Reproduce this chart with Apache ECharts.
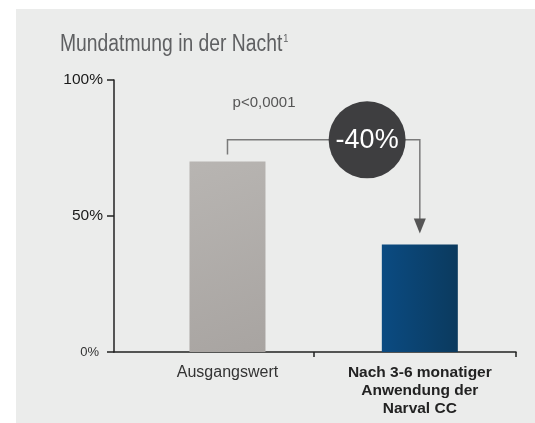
<!DOCTYPE html>
<html>
<head>
<meta charset="utf-8">
<script src="https://cdn.jsdelivr.net/npm/echarts@6/dist/echarts.min.js"></script>
<style>
  html, body { margin: 0; padding: 0; background: #fff; }
  #chart { width: 535px; height: 423px; }
</style>
</head>
<body>
<div id="chart"></div>
<script>
// Daten
var categories = ['Ausgangswert', 'Nach 3-6 monatiger\nAnwendung der\nNarval CC']
var values = [70, 39.5]
var yTicks = [0, 50, 100]
var changeLabel = '-40%'
var pLabel = 'p<0,0001'

var chart = echarts.init(document.getElementById('chart'))

chart.setOption({
  animation: false,
  graphic: [{
    type: 'rect',
    z: -10,
    shape: { x: 16, y: 9, width: 519, height: 414 },
    style: { fill: '#ebeceb' }
  }, {
    type: 'text',
    x: 60,
    y: 33,
    scaleX: 0.84,
    style: {
      text: 'Mundatmung in der Nacht{sup|1}',
      fontFamily: 'Liberation Sans, Arial, sans-serif',
      fontSize: 23,
      fill: '#5f6062',
      rich: {
        sup: { fontSize: 11, verticalAlign: 'top', padding: [0, 0, 10, 1], fill: '#5f6062' }
      }
    }
  }],
  grid: { left: 114, right: 19, top: 80, bottom: 71 },
  xAxis: {
    type: 'value',
    min: -0.59,
    max: 1.5,
    splitLine: { show: false },
    axisLine: { lineStyle: { color: '#222', width: 1.5 } },
    axisTick: {
      show: true,
      customValues: [0.45, 1.5],
      length: 5,
      lineStyle: { color: '#222', width: 1.5 }
    },
    axisLabel: {
      customValues: [0, 1],
      margin: 12,
      formatter: function (v) {
        var i = Math.round(v)
        return i === 0 ? '{n|' + categories[i] + '}' : '{b|' + categories[i] + '}'
      },
      rich: {
        n: { fontFamily: 'Liberation Sans, Arial, sans-serif', fontSize: 16, color: '#333', lineHeight: 18 },
        b: { fontFamily: 'Liberation Sans, Arial, sans-serif', fontSize: 15.5, fontWeight: 'bold', color: '#222', lineHeight: 18, align: 'center' }
      }
    }
  },
  yAxis: {
    type: 'value',
    min: yTicks[0],
    max: yTicks[yTicks.length - 1],
    interval: 50,
    splitLine: { show: false },
    axisLine: { show: true, onZero: false, lineStyle: { color: '#222', width: 1.5 } },
    axisTick: { show: true, length: 7, lineStyle: { color: '#222', width: 1.5 } },
    axisLabel: {
      margin: 11,
      formatter: function (v) {
        return v === 0 ? '{s|0%}' : '{m|' + v + '%}'
      },
      rich: {
        m: { fontFamily: 'Liberation Sans, Arial, sans-serif', fontSize: 15.5, color: '#1a1a1a' },
        s: { fontFamily: 'Liberation Sans, Arial, sans-serif', fontSize: 13, color: '#333', padding: [0, 4, 0, 0] }
      }
    }
  },
  series: [{
    type: 'bar',
    barWidth: 76,
    data: [
      {
        value: [0, values[0]],
        itemStyle: {
          color: new echarts.graphic.LinearGradient(0, 0, 1, 1, [
            { offset: 0, color: '#b8b5b2' },
            { offset: 1, color: '#a8a4a1' }
          ])
        }
      },
      {
        value: [1, values[1]],
        itemStyle: {
          color: new echarts.graphic.LinearGradient(0, 0, 1, 0, [
            { offset: 0, color: '#0b4b82' },
            { offset: 1, color: '#0b3a5e' }
          ])
        }
      }
    ]
  }, {
    // Klammer mit Pfeil, Kreis und p-Wert
    type: 'custom',
    data: [[0, values[0], 1, values[1]]],
    z: 5,
    renderItem: function (params, api) {
      var a = api.coord([api.value(0), api.value(1)])
      var b = api.coord([api.value(2), api.value(3)])
      var lineY = api.coord([0, 78])[1]
      var c = api.coord([0.726, 78])
      var p = api.coord([0.19, 91.5])
      var startY = a[1] - 7
      var tipY = b[1] - 11
      var lineStyle = { stroke: '#7a7a7a', lineWidth: 1.5, fill: null }
      return {
        type: 'group',
        children: [{
          type: 'polyline',
          shape: { points: [[a[0], startY], [a[0], lineY], [b[0], lineY], [b[0], tipY - 12]] },
          style: lineStyle
        }, {
          type: 'polygon',
          shape: { points: [[b[0] - 6, tipY - 15], [b[0] + 6, tipY - 15], [b[0], tipY]] },
          style: { fill: '#555' }
        }, {
          type: 'circle',
          shape: { cx: c[0], cy: c[1], r: 38.5 },
          style: { fill: '#3e3e40' }
        }, {
          type: 'text',
          x: c[0],
          y: c[1] + 1,
          style: {
            text: changeLabel,
            fill: '#fff',
            fontSize: 27,
            fontFamily: 'Liberation Sans, Arial, sans-serif',
            align: 'center',
            verticalAlign: 'middle'
          }
        }, {
          type: 'text',
          x: p[0],
          y: p[1],
          style: {
            text: pLabel,
            fill: '#555',
            fontSize: 15,
            fontFamily: 'Liberation Sans, Arial, sans-serif',
            align: 'center',
            verticalAlign: 'middle'
          }
        }]
      }
    }
  }]
})
</script>
</body>
</html>
